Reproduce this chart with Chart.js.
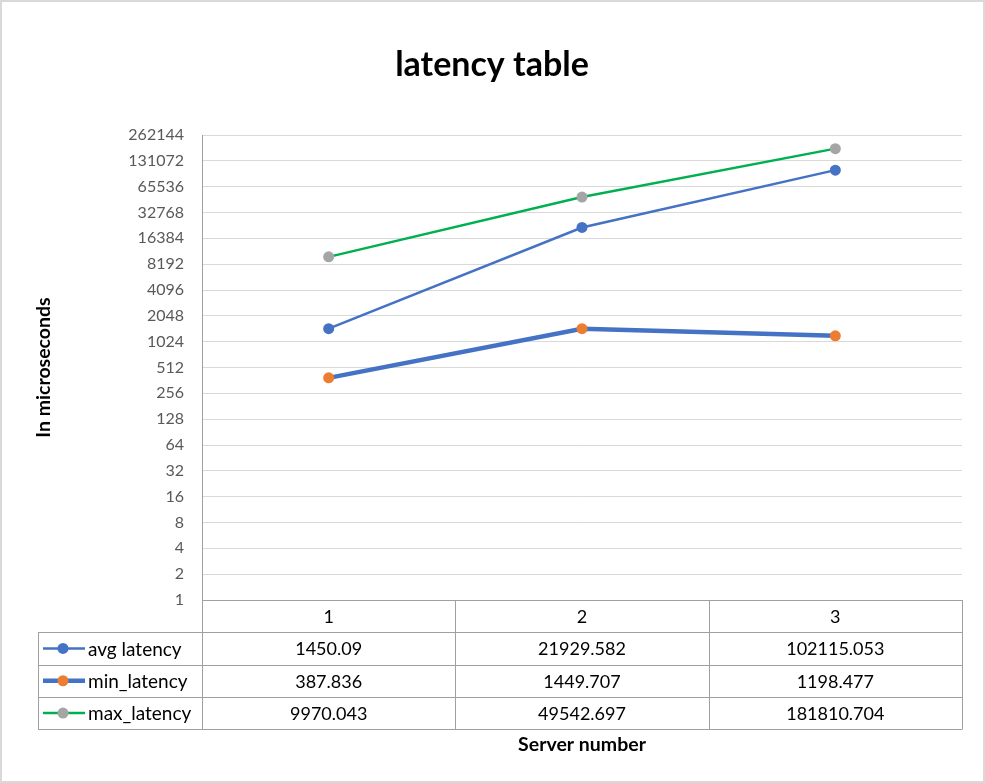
<!DOCTYPE html>
<html>
<head>
<meta charset="utf-8">
<script src="https://cdn.jsdelivr.net/npm/chart.js@4.4.1/dist/chart.umd.min.js"></script>
<style>
  html, body { margin: 0; padding: 0; background: #ffffff; }
  #wrap { width: 985px; height: 783px; position: relative; }
</style>
</head>
<body>
<div id="wrap"><canvas id="c" width="985" height="783"></canvas></div>
<script>
// ---- data ----
const categories = ['1', '2', '3'];
const avgLatency = [1450.09, 21929.582, 102115.053];
const minLatency = [387.836, 1449.707, 1198.477];
const maxLatency = [9970.043, 49542.697, 181810.704];
const yTickValues = [1, 2, 4, 8, 16, 32, 64, 128, 256, 512, 1024, 2048, 4096, 8192, 16384, 32768, 65536, 131072, 262144];
const seriesNames = ['avg latency', 'min_latency', 'max_latency'];
const tableLabels = [
  ['1450.09', '21929.582', '102115.053'],
  ['387.836', '1449.707', '1198.477'],
  ['9970.043', '49542.697', '181810.704']
];
const chartTitle = 'latency table';

const FONT = 'Lato, "Open Sans", sans-serif';
const BLUE = '#4472C4', ORANGE = '#ED7D31', GREEN = '#00B050', GRAY = '#A5A5A5';
const TABLE_LINE = '#a0a0a0';

const styles = [
  { line: BLUE, point: BLUE, width: 2.5 },
  { line: BLUE, point: ORANGE, width: 4.5 },
  { line: GREEN, point: GRAY, width: 2.5 }
];

const ROW_H = 32.3;

const frameAndTable = {
  id: 'frameAndTable',
  beforeDraw(chart) {
    const ctx = chart.ctx;
    ctx.save();
    ctx.fillStyle = '#ffffff';
    ctx.fillRect(0, 0, chart.width, chart.height);
    ctx.strokeStyle = '#d9d9d9';
    ctx.lineWidth = 2;
    ctx.strokeRect(1, 1, chart.width - 2, chart.height - 2);
    ctx.restore();
  },
  afterDraw(chart) {
    const ctx = chart.ctx;
    const area = chart.chartArea;
    const xs = chart.scales.x;
    const n = categories.length;
    const colW = (area.right - area.left) / n;
    const top = area.bottom;
    const legendLeft = 38;
    ctx.save();
    // title
    ctx.fillStyle = '#000000';
    ctx.font = 'bold 34px ' + FONT;
    ctx.textAlign = 'center';
    ctx.textBaseline = 'middle';
    ctx.fillText(chartTitle, 492, 65);

    ctx.strokeStyle = TABLE_LINE;
    ctx.lineWidth = 1;
    ctx.beginPath();
    ctx.moveTo(area.left, top + 0.5);
    ctx.lineTo(area.right, top + 0.5);
    for (let r = 1; r <= seriesNames.length + 1; r++) {
      const y = Math.round(top + r * ROW_H) + 0.5;
      ctx.moveTo(legendLeft, y);
      ctx.lineTo(area.right, y);
    }
    const bottom = Math.round(top + (seriesNames.length + 1) * ROW_H) + 0.5;
    for (let c = 0; c <= n; c++) {
      const x = Math.round(area.left + c * colW) + 0.5;
      ctx.moveTo(x, top);
      ctx.lineTo(x, bottom);
    }
    ctx.moveTo(legendLeft + 0.5, Math.round(top + ROW_H));
    ctx.lineTo(legendLeft + 0.5, bottom);
    ctx.stroke();

    ctx.textBaseline = 'middle';
    for (let r = 0; r < seriesNames.length; r++) {
      const cy = top + (r + 1.5) * ROW_H;
      const st = styles[r];
      ctx.strokeStyle = st.line;
      ctx.lineWidth = st.width;
      ctx.beginPath();
      ctx.moveTo(43, cy);
      ctx.lineTo(85, cy);
      ctx.stroke();
      ctx.fillStyle = st.point;
      ctx.beginPath();
      ctx.arc(63, cy, 5.5, 0, Math.PI * 2);
      ctx.fill();
      ctx.fillStyle = '#000000';
      ctx.textAlign = 'left';
      ctx.font = '19px ' + FONT;
      ctx.fillText(seriesNames[r], 88, cy + 1);
      ctx.textAlign = 'center';
      ctx.font = '18px ' + FONT;
      for (let c = 0; c < n; c++) {
        const cx = xs.getPixelForValue(c);
        ctx.fillText(tableLabels[r][c], cx, cy + 1);
      }
    }
    ctx.restore();
  }
};

const datasets = [avgLatency, minLatency, maxLatency].map((d, i) => ({
  label: seriesNames[i],
  data: d,
  borderColor: styles[i].line,
  borderWidth: styles[i].width,
  backgroundColor: styles[i].point,
  pointBackgroundColor: styles[i].point,
  pointBorderColor: styles[i].point,
  pointRadius: 5.5,
  pointBorderWidth: 0,
  pointHoverRadius: 5.5,
  tension: 0,
  fill: false
}));
datasets.forEach((d, i) => d.order = datasets.length - i);

new Chart(document.getElementById('c'), {
  type: 'line',
  data: { labels: categories, datasets: datasets },
  options: {
    responsive: false,
    animation: false,
    devicePixelRatio: 1,
    layout: { padding: { top: 135, right: 23, bottom: 0, left: 0 } },
    plugins: {
      legend: { display: false },
      title: { display: false },
      tooltip: { enabled: false }
    },
    scales: {
      x: {
        type: 'category',
        offset: true,
        grid: { display: false, drawTicks: false },
        border: { display: false },
        ticks: { color: '#000000', font: { family: FONT, size: 18 }, padding: 6 },
        title: {
          display: true,
          text: 'Server number',
          color: '#000000',
          font: { family: FONT, size: 19.5, weight: 'bold' },
          padding: { top: 0, bottom: 27 }
        },
        afterFit(scale) { scale.height = 183; }
      },
      y: {
        type: 'logarithmic',
        min: 1,
        max: 262144,
        afterBuildTicks(scale) { scale.ticks = yTickValues.map(v => ({ value: v })); },
        grid: { color: '#d9d9d9', lineWidth: 1, drawTicks: false },
        border: { display: true, color: '#a0a0a0', width: 1 },
        ticks: {
          color: '#595959',
          font: { family: FONT, size: 16 },
          padding: 18,
          autoSkip: false,
          callback: (v) => String(v)
        },
        title: {
          display: true,
          text: 'In microseconds',
          color: '#000000',
          font: { family: FONT, size: 19.5, weight: 'bold' },
          padding: { top: 32, bottom: 0 }
        },
        afterFit(scale) { scale.width = 202; }
      }
    }
  },
  plugins: [frameAndTable]
});
</script>
</body>
</html>
